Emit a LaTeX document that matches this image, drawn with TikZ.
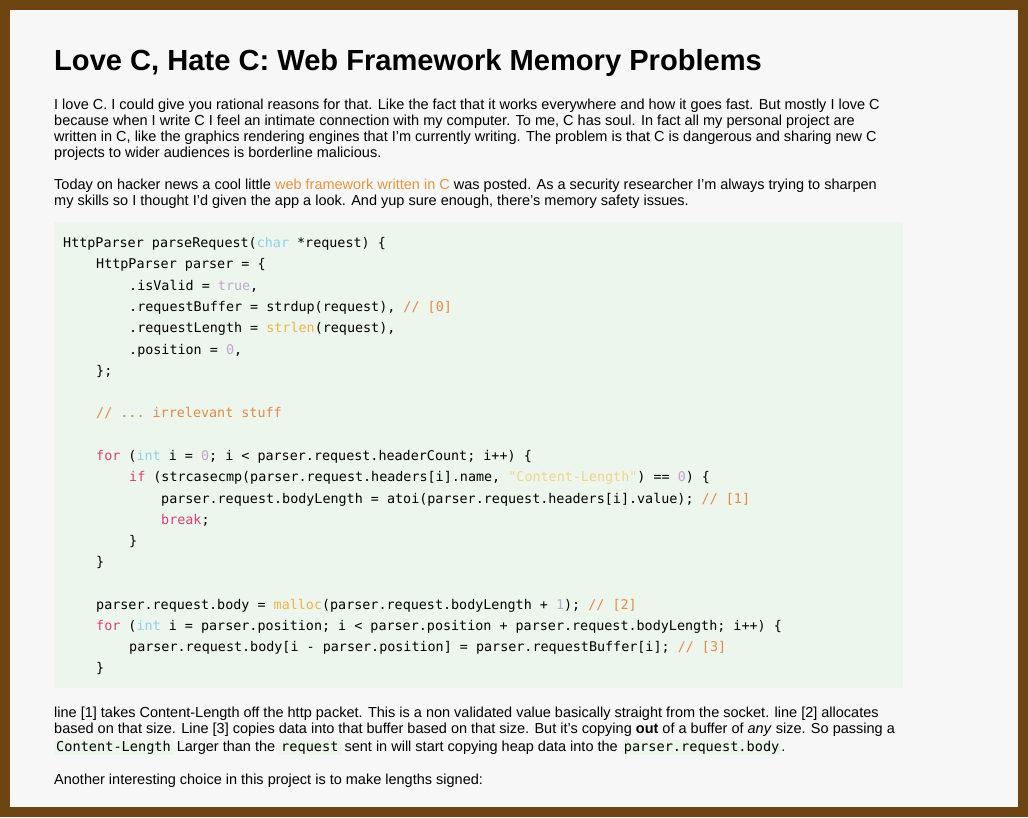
\documentclass[tikz,border=0pt]{standalone}
\usepackage{fontspec}
\setmainfont{Liberation Sans}
\setmonofont{DejaVu Sans Mono}
\definecolor{frame}{HTML}{6F4413}
\definecolor{page}{HTML}{F7F7F7}
\definecolor{codebg}{HTML}{EDF6EC}
\definecolor{kw}{HTML}{D8407A}
\definecolor{ty}{HTML}{8DD0EC}
\definecolor{num}{HTML}{C0A6D2}
\definecolor{cmt}{HTML}{E08A48}
\definecolor{fn}{HTML}{EEB24E}
\definecolor{str}{HTML}{F0D48C}
\definecolor{link}{HTML}{E3963E}
\newcommand{\K}[1]{\textcolor{kw}{#1}}
\newcommand{\T}[1]{\textcolor{ty}{#1}}
\newcommand{\N}[1]{\textcolor{num}{#1}}
\newcommand{\C}[1]{\textcolor{cmt}{#1}}
\newcommand{\F}[1]{\textcolor{fn}{#1}}
\newcommand{\chip}[1]{\tikz[baseline=(c.base)]\node[fill=codebg,inner xsep=2pt,inner ysep=1pt](c){\fontsize{13.6}{13.6}\ttfamily #1};}
\begin{document}
\begin{tikzpicture}[x=1pt,y=-1pt,
txt/.style={anchor=base west,inner sep=0pt,font=\fontsize{14.5}{14.5}\selectfont},
code/.style={anchor=base west,inner sep=0pt,font=\fontsize{13.4}{13.4}\ttfamily},
]
%Background
\fill[frame] (0,0) rectangle (1028,817);
\fill[page] (10,10) rectangle (1018,807);
\useasboundingbox (0,0) rectangle (1028,817);
\fill[codebg] (54,222) rectangle (903,688);

%Title
\node[anchor=base west,inner sep=0pt,font=\fontsize{29.1}{29.1}\bfseries\selectfont] (title) at (54,70) {Love C, Hate C: Web Framework Memory Problems};

%Intro
\node[txt] (p1) at (54,109) {I love C. I could give you rational reasons for that. Like the fact that it works everywhere and how it goes fast. But mostly I love C};
\node[txt] (p2) at (54,125) {because when I write C I feel an intimate connection with my computer. To me, C has soul. In fact all my personal project are};
\node[txt] (p3) at (54,141) {written in C, like the graphics rendering engines that I'm currently writing. The problem is that C is dangerous and sharing new C};
\node[txt] (p4) at (54,157) {projects to wider audiences is borderline malicious.};
\node[txt] (p5) at (54,189) {Today on hacker news a cool little \textcolor{link}{web framework written in C} was posted. As a security researcher I'm always trying to sharpen};
\node[txt] (p6) at (54,205) {my skills so I thought I'd given the app a look. And yup sure enough, there's memory safety issues.};

%Code
\node[code] (c1)  at (63,247)  {HttpParser parseRequest(\T{char} *request) \{};
\node[code] (c2)  at (96,268)  {HttpParser parser = \{};
\node[code] (c3)  at (129,290) {.isValid = \N{true},};
\node[code] (c4)  at (129,311) {.requestBuffer = strdup(request), \C{// [0]}};
\node[code] (c5)  at (129,332) {.requestLength = \F{strlen}(request),};
\node[code] (c6)  at (129,354) {.position = \N{0},};
\node[code] (c7)  at (96,375)  {\};};
\node[code] (c8)  at (96,417)  {\C{// ... irrelevant stuff}};
\node[code] (c9)  at (96,460)  {\K{for} (\T{int} i = \N{0}; i < parser.request.headerCount; i++) \{};
\node[code] (c10) at (129,481) {\K{if} (strcasecmp(parser.request.headers[i].name, \textcolor{str}{"Content-Length"}) == \N{0}) \{};
\node[code] (c11) at (161,503) {parser.request.bodyLength = atoi(parser.request.headers[i].value); \C{// [1]}};
\node[code] (c12) at (161,524) {\K{break};};
\node[code] (c13) at (129,545) {\}};
\node[code] (c14) at (96,566)  {\}};
\node[code] (c15) at (96,609)  {parser.request.body = \F{malloc}(parser.request.bodyLength + \N{1}); \C{// [2]}};
\node[code] (c16) at (96,630)  {\K{for} (\T{int} i = parser.position; i < parser.position + parser.request.bodyLength; i++) \{};
\node[code] (c17) at (129,651) {parser.request.body[i - parser.position] = parser.requestBuffer[i]; \C{// [3]}};
\node[code] (c18) at (96,672)  {\}};

%Explanation
\node[txt] (e1) at (54,717) {line [1] takes Content-Length off the http packet. This is a non validated value basically straight from the socket. line [2] allocates};
\node[txt] (e2) at (54,733) {based on that size. Line [3] copies data into that buffer based on that size. But it's copying \textbf{out} of a buffer of \textit{any} size. So passing a};
\node[txt] (e3) at (54,751) {\chip{Content-Length} Larger than the \chip{request} sent in will start copying heap data into the \chip{parser.request.body}.};
\node[txt] (e4) at (54,784) {Another interesting choice in this project is to make lengths signed:};
\end{tikzpicture}
\end{document}
